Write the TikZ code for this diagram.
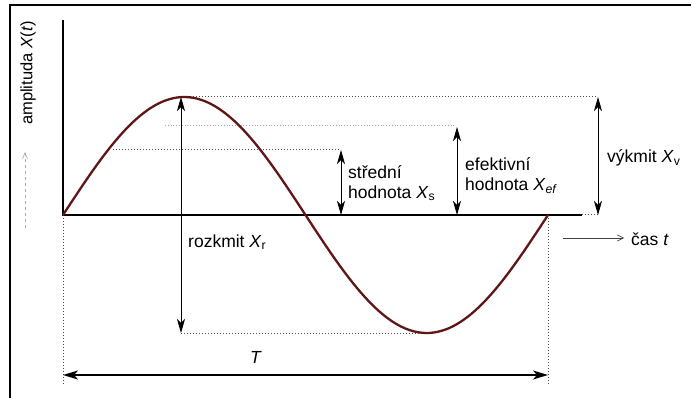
\documentclass[tikz,border=0pt]{standalone}
\usepackage{fontspec}
\setmainfont{Liberation Sans}
\usetikzlibrary{arrows.meta}
\definecolor{curve}{RGB}{95,22,22}
\definecolor{faint}{RGB}{170,170,170}
\tikzset{
  lbl/.style={font=\fontsize{17.5}{20}\selectfont, inner sep=0pt, align=left, anchor=west},
  dimarrow/.style={line width=0.9pt, {Stealth[length=14pt,width=8pt,inset=4pt]}-{Stealth[length=14pt,width=8pt,inset=4pt]}},
  guide/.style={line width=1pt, dotted, black!70},
  axisline/.style={line width=1.1pt},
}
\begin{document}
\begin{tikzpicture}[x=1pt,y=-1pt]
\useasboundingbox (0,0) rectangle (691,398);
% frame
\draw[line width=2pt] (10,398) -- (10,5) -- (691,5);
% coordinates
\coordinate (O) at (63,215);
\coordinate (Ytop) at (63,20);
\coordinate (Tend) at (548,215);
\coordinate (Peak) at (181,97);
\coordinate (Trough) at (181,333);
\coordinate (Tr2) at (425,333);
\coordinate (Vtop) at (598,97);
\coordinate (Vbot) at (598,215);
\coordinate (Axend) at (582,215);
\coordinate (Stop) at (341,150);
\coordinate (Sbot) at (341,215);
\coordinate (Sleft) at (113,150);
\coordinate (Etop) at (457,127);
\coordinate (Ebot) at (457,215);
\coordinate (Eleft) at (165,125);
\coordinate (Eright) at (455,125);
\coordinate (OL) at (63,385);
\coordinate (TR) at (548,385);
\coordinate (TA) at (63,375);
\coordinate (TB) at (548,375);
\coordinate (CasA) at (563,238);
\coordinate (CasB) at (624,238);
\coordinate (YlA) at (25,228);
\coordinate (YlB) at (25,152);
% axes
\draw[axisline] (Ytop) -- (O) -- (Axend);
\draw[guide] (Axend) -- (Vbot);
% guides
\draw[guide] (Peak) -- (Vtop);
\draw[guide] (Sleft) -- (Stop);
\draw[line width=0.8pt, dotted, faint] (Eleft) -- (Eright);
\draw[guide] (Trough) -- (Tr2);
\draw[guide] (O) -- (OL);
\draw[guide] (Tend) -- (TR);
% sine curve
\draw[curve, line width=2.3pt] plot[domain=0:360, samples=120, smooth] ({63+\x*1.34722},{215-118*sin(\x)});
% dimension arrows
\draw[dimarrow] (Stop) -- (Sbot);
\draw[dimarrow] (Etop) -- (Ebot);
\draw[dimarrow] (Vtop) -- (Vbot);
\draw[dimarrow] (Peak) -- (Trough);
\draw[line width=1.8pt, {Stealth[length=15pt,width=9pt,inset=4pt]}-{Stealth[length=15pt,width=9pt,inset=4pt]}] (TA) -- (TB);
\draw[line width=0.6pt, black!75, -{Straight Barb[length=6pt,width=6pt]}] (CasA) -- (CasB);
\draw[line width=0.6pt, faint, dashed, -{Straight Barb[length=6pt,width=5pt]}] (YlA) -- (YlB);
% labels
\node[lbl] (ls) at (348,183) {střední\\hodnota \textit{X}\textsubscript{s}};
\node[lbl] (le) at (465,176) {efektivní\\hodnota \textit{X}\textsubscript{\textit{ef}}};
\node[lbl] (lv) at (607,158) {výkmit \textit{X}\textsubscript{v}};
\node[lbl] (lr) at (188,242) {rozkmit \textit{X}\textsubscript{r}};
\node[lbl] (lc) at (631,239) {čas \textit{t}};
\node[lbl, anchor=center] (lT) at (256,357) {\textit{T}};
\node[lbl, anchor=center, rotate=90, font=\fontsize{16.5}{20}\selectfont] (ly) at (28,73) {amplituda \textit{X}(\textit{t})};
\end{tikzpicture}
\end{document}
